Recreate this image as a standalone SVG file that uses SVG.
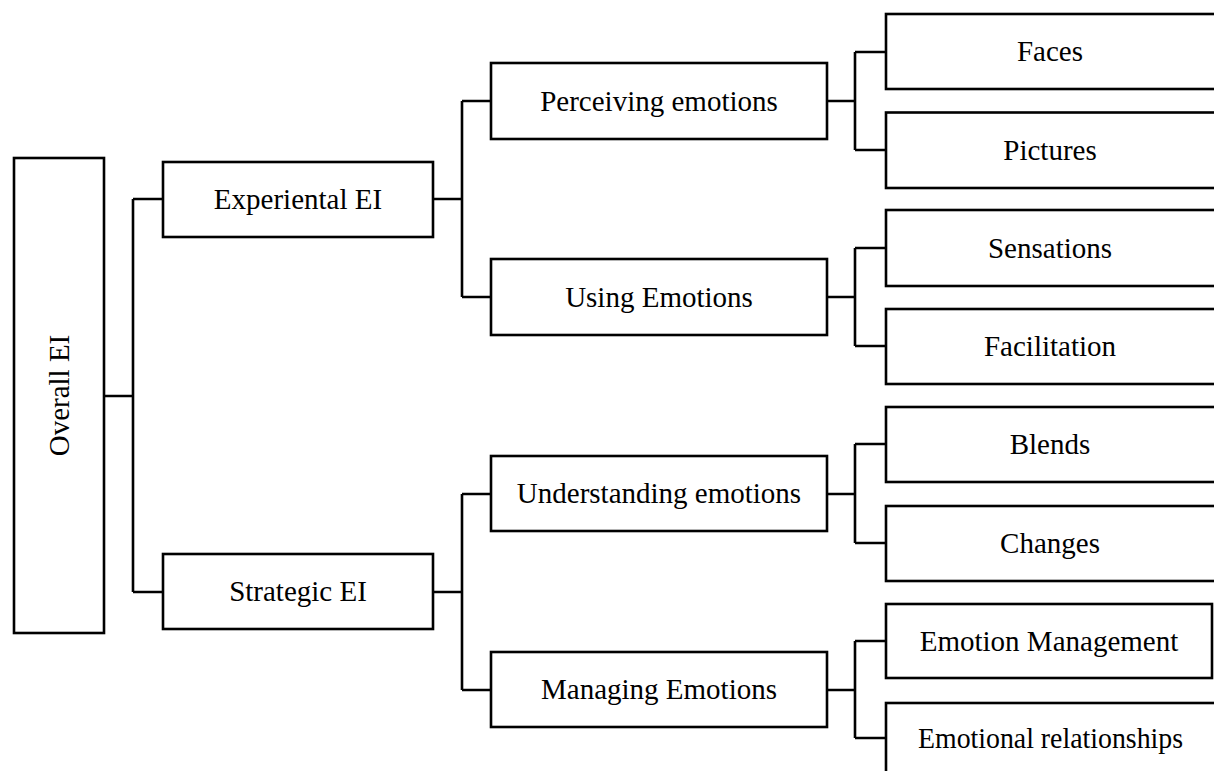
<svg xmlns="http://www.w3.org/2000/svg" width="1214" height="771" viewBox="0 0 1214 771">
<style>
.box{fill:#fff;stroke:#000;stroke-width:2.6}
.t{font-family:"Liberation Serif","Times New Roman",serif;font-size:29px;fill:#000;text-anchor:middle}
.c{fill:none;stroke:#000;stroke-width:2.6}
</style>
<rect width="1214" height="771" fill="#fff"/>
<g id="connectors">
<path class="c" d="M104,396H133M133,199V592M133,199H163M133,592H163"/>
<path class="c" d="M433,199H462M462,101V297M462,101H491M462,297H491"/>
<path class="c" d="M433,592H462M462,494V690M462,494H491M462,690H491"/>
<path class="c" d="M827,101H855M855,52V150M855,52H886M855,150H886"/>
<path class="c" d="M827,297H855M855,248V346M855,248H886M855,346H886"/>
<path class="c" d="M827,494H855M855,444V543M855,444H886M855,543H886"/>
<path class="c" d="M827,690H855M855,641V738M855,641H886M855,738H886"/>
</g>
<g id="overall"><rect class="box" x="14" y="158" width="90" height="475"/><text class="t" transform="translate(68.5,395.5) rotate(-90)">Overall EI</text></g>
<g id="experiental"><rect class="box" x="163" y="162" width="270" height="75"/><text class="t" x="298" y="209">Experiental EI</text></g>
<g id="strategic"><rect class="box" x="163" y="554" width="270" height="75"/><text class="t" x="298" y="601">Strategic EI</text></g>
<g id="perceiving"><rect class="box" x="491" y="63" width="336" height="76"/><text class="t" x="659" y="110.5">Perceiving emotions</text></g>
<g id="using"><rect class="box" x="491" y="259" width="336" height="76"/><text class="t" x="659" y="306.5">Using Emotions</text></g>
<g id="understanding"><rect class="box" x="491" y="456" width="336" height="75"/><text class="t" x="659" y="503">Understanding emotions</text></g>
<g id="managing"><rect class="box" x="491" y="652" width="336" height="75"/><text class="t" x="659" y="699">Managing Emotions</text></g>
<g id="faces"><rect class="box" x="886" y="14" width="340" height="75"/><text class="t" x="1050" y="61">Faces</text></g>
<g id="pictures"><rect class="box" x="886" y="112.5" width="340" height="75.5"/><text class="t" x="1050" y="159.5">Pictures</text></g>
<g id="sensations"><rect class="box" x="886" y="210" width="340" height="76"/><text class="t" x="1050" y="257.5">Sensations</text></g>
<g id="facilitation"><rect class="box" x="886" y="309" width="340" height="75"/><text class="t" x="1050" y="356">Facilitation</text></g>
<g id="blends"><rect class="box" x="886" y="407" width="340" height="75"/><text class="t" x="1050" y="454">Blends</text></g>
<g id="changes"><rect class="box" x="886" y="506" width="340" height="75"/><text class="t" x="1050" y="553">Changes</text></g>
<g id="emotion-management"><rect class="box" x="886" y="604" width="326" height="74"/><text class="t" x="1049" y="650.5">Emotion Management</text></g>
<g id="emotional-relationships"><rect class="box" x="886" y="703" width="340" height="80"/><text class="t" x="1050.5" y="747.5" textLength="265" lengthAdjust="spacingAndGlyphs">Emotional relationships</text></g>
</svg>
